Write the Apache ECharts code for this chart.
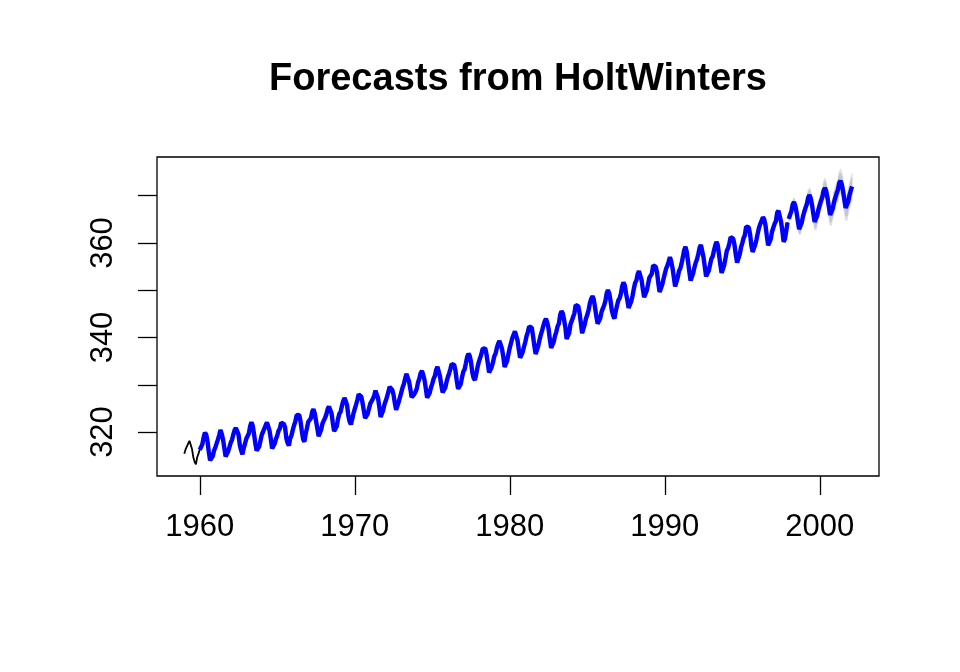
<!DOCTYPE html>
<html>
<head>
<meta charset="utf-8">
<script src="https://cdn.jsdelivr.net/npm/echarts@6/dist/echarts.min.js"></script>
<style>html,body{margin:0;padding:0;background:#fff}#c{width:960px;height:672px}</style>
</head>
<body>
<div id="c"></div>
<script>
// Observed monthly series, 1959 Jan .. 1997 Dec
const obsStart = 1959;
const co2 = [
315.42,316.31,316.50,317.56,318.13,318.00,316.39,314.65,313.68,313.18,314.66,315.43,
316.27,316.81,317.42,318.87,319.87,319.43,318.01,315.74,314.00,313.68,314.84,316.03,
316.73,317.54,318.38,319.31,320.42,319.61,318.42,316.63,314.83,315.16,315.94,316.85,
317.78,318.40,319.53,320.42,320.85,320.45,319.45,317.25,316.11,315.27,316.53,317.53,
318.58,318.92,319.70,321.22,322.08,321.31,319.58,317.61,316.05,315.83,316.91,318.20,
319.41,320.07,320.74,321.40,322.06,321.73,320.27,318.54,316.54,316.71,317.53,318.55,
319.27,320.28,320.73,321.97,322.00,321.71,321.05,318.71,317.66,317.14,318.70,319.25,
320.46,321.43,322.23,323.54,323.91,323.59,322.24,320.20,318.48,317.94,319.63,320.87,
322.17,322.34,322.88,324.25,324.83,323.93,322.38,320.76,319.10,319.24,320.56,321.80,
322.40,322.99,323.73,324.86,325.40,325.20,323.98,321.95,320.18,320.09,321.16,322.74,
323.83,324.26,325.47,326.50,327.21,326.54,325.72,323.50,322.22,321.62,322.69,323.95,
324.89,325.82,326.77,327.97,327.91,327.50,326.18,324.53,322.93,322.90,323.85,324.96,
326.01,326.51,327.01,327.62,328.76,328.40,327.20,325.27,323.20,323.40,324.63,325.85,
326.60,327.47,327.58,329.56,329.90,328.92,327.88,326.16,324.68,325.04,326.34,327.39,
328.37,329.40,330.14,331.33,332.31,331.90,330.70,329.15,327.35,327.02,327.99,328.48,
329.18,330.55,331.32,332.48,332.92,332.08,331.01,329.23,327.27,327.21,328.29,329.41,
330.23,331.25,331.87,333.14,333.80,333.43,331.73,329.90,328.40,328.17,329.32,330.59,
331.58,332.39,333.33,334.41,334.71,334.17,332.89,330.77,329.14,328.78,330.14,331.52,
332.75,333.24,334.53,335.90,336.57,336.10,334.76,332.59,331.42,330.98,332.24,333.68,
334.80,335.22,336.47,337.59,337.84,337.72,336.37,334.51,332.60,332.38,333.75,334.78,
336.05,336.59,337.79,338.71,339.30,339.12,337.56,335.92,333.75,333.70,335.12,336.56,
337.84,338.19,339.91,340.60,341.29,341.00,339.39,337.43,335.72,335.84,336.93,338.04,
339.06,340.30,341.21,342.33,342.74,342.08,340.32,338.26,336.52,336.68,338.19,339.44,
340.57,341.44,342.53,343.39,343.96,343.18,341.88,339.65,337.81,337.69,339.09,340.32,
341.20,342.35,342.93,344.77,345.58,345.14,343.81,342.21,339.69,339.82,340.98,342.82,
343.52,344.33,345.11,346.88,347.25,346.62,345.22,343.11,340.90,341.18,342.80,344.04,
344.79,345.82,347.25,348.17,348.74,348.07,346.38,344.51,342.92,342.62,344.06,345.38,
346.11,346.78,347.68,349.37,350.03,349.37,347.76,345.73,344.68,343.99,345.48,346.72,
347.84,348.29,349.23,350.80,351.66,351.07,349.33,347.92,346.27,346.18,347.64,348.78,
350.25,351.54,352.05,353.41,354.04,353.62,352.22,350.27,348.55,348.72,349.91,351.18,
352.60,352.92,353.53,355.26,355.52,354.97,353.75,351.52,349.64,349.83,351.14,352.37,
353.50,354.55,355.23,356.04,357.00,356.07,354.67,352.76,350.82,351.04,352.69,354.07,
354.59,355.63,357.03,358.48,359.22,358.12,356.06,353.92,352.05,352.11,353.64,354.89,
355.88,356.63,357.72,359.07,359.58,359.17,356.94,354.92,352.94,353.23,354.09,355.33,
356.63,357.10,358.32,359.41,360.23,359.55,357.53,355.48,353.67,353.95,355.30,356.78,
358.34,358.89,359.95,361.25,361.67,360.94,359.55,357.49,355.84,356.00,357.59,359.05,
359.98,361.03,361.66,363.48,363.82,363.30,361.94,359.50,358.11,357.80,359.61,360.74,
362.09,363.29,364.06,364.76,365.45,365.01,363.70,361.54,359.51,359.65,360.80,362.38,
363.23,364.06,364.61,366.40,366.84,365.68,364.52,362.57,360.24,360.83,362.49,364.34
];
// Fitted (blue) line from 1960 Jan; estimated as visually equal to the observed values
const fitStart = 1960;
const fitted = co2.slice(12);

// Forecast mean, 1998 Jan .. 2002 Feb
const fcStart = 1998;
const forecast = [
365.11,365.97,366.73,368.14,368.67,367.95,366.54,364.69,362.94,362.97,364.28,365.63,
366.61,367.47,368.23,369.64,370.17,369.45,368.04,366.19,364.44,364.47,365.78,367.13,
368.10,368.96,369.72,371.13,371.66,370.94,369.53,367.68,365.93,365.96,367.27,368.62,
369.60,370.46,371.22,372.63,373.16,372.44,371.03,369.18,367.43,367.46,368.77,370.12,
371.09,371.95
];
// Half-widths of the 95% and 80% prediction intervals
const hw95 = [
0.60,0.68,0.75,0.82,0.89,0.95,1.01,1.06,1.12,1.17,1.22,1.27,
1.34,1.38,1.43,1.47,1.52,1.56,1.60,1.64,1.68,1.72,1.76,1.80,
1.85,1.89,1.93,1.97,2.00,2.04,2.08,2.12,2.15,2.19,2.23,2.26,
2.31,2.35,2.38,2.42,2.46,2.49,2.53,2.57,2.60,2.64,2.67,2.71,
2.76,2.79
];
const hw80 = [
0.39,0.44,0.49,0.54,0.58,0.62,0.66,0.69,0.73,0.77,0.80,0.83,
0.88,0.90,0.94,0.96,0.99,1.02,1.05,1.07,1.10,1.12,1.15,1.18,
1.21,1.24,1.26,1.29,1.31,1.33,1.36,1.39,1.41,1.43,1.46,1.48,
1.51,1.54,1.56,1.58,1.61,1.63,1.65,1.68,1.70,1.73,1.75,1.77,
1.80,1.82
];
const xTicks = [1960, 1970, 1980, 1990, 2000];
const yTicks = [320, 330, 340, 350, 360, 370];
const yLabels = [320, 340, 360];
const titleText = 'Forecasts from HoltWinters';

const ts = (start, arr) => arr.map((v, i) => [start + i / 12, v]);
const bandData = hw => forecast.map((v, i) => [fcStart + i / 12, v - hw[i], v + hw[i]]);

function bandSeries(data, color, z) {
  return {
    type: 'custom', z: z, silent: true, clip: true,
    data: data, encode: {x: 0, y: [1, 2]},
    renderItem: function (params, api) {
      const i = params.dataIndex;
      if (i >= data.length - 1) return null;
      const a = data[i], b = data[i + 1];
      const pts = [api.coord([a[0], a[1]]), api.coord([b[0], b[1]]), api.coord([b[0], b[2]]), api.coord([a[0], a[2]])];
      return {type: 'polygon', shape: {points: pts}, style: {fill: color, stroke: color, lineWidth: 0.6}};
    }
  };
}

const FONT = '"Liberation Sans", Arial, Helvetica, sans-serif';
const chart = echarts.init(document.getElementById('c'), null, {renderer: 'canvas'});
chart.setOption({
  animation: false,
  backgroundColor: '#ffffff',
  graphic: [{
    type: 'text', x: 518, y: 80,
    style: {text: titleText, fill: '#000', font: 'bold 38px ' + FONT, textAlign: 'center', textVerticalAlign: 'middle'}
  }],
  grid: {left: 157, right: 81, top: 157, bottom: 196, show: true, borderColor: '#000', borderWidth: 1.3, backgroundColor: 'transparent'},
  xAxis: {
    type: 'value', min: 1957.24, max: 2003.82,
    splitLine: {show: false}, axisLine: {show: false},
    axisTick: {show: true, inside: false, length: 19, lineStyle: {color: '#000', width: 1.3}, customValues: xTicks},
    axisLabel: {show: true, customValues: xTicks, margin: 36, color: '#000', fontSize: 31, fontFamily: FONT, formatter: v => String(v)}
  },
  yAxis: {
    type: 'value', min: 310.69, max: 378.2,
    splitLine: {show: false}, axisLine: {show: false},
    axisTick: {show: true, inside: false, length: 19, lineStyle: {color: '#000', width: 1.3}, customValues: yTicks},
    axisLabel: {show: true, customValues: yLabels, rotate: 90, margin: 38, color: '#000', fontSize: 31, fontFamily: FONT, formatter: v => String(v)}
  },
  series: [
    {type: 'line', data: ts(obsStart, co2), showSymbol: false, lineStyle: {color: '#000', width: 1.8}, z: 2},
    bandSeries(bandData(hw95), '#DCDCE5', 3),
    bandSeries(bandData(hw80), '#C4C6D4', 4),
    {type: 'line', data: ts(fcStart, forecast), showSymbol: false, lineStyle: {color: '#0000FF', width: 4.4}, z: 5},
    {type: 'line', data: ts(fitStart, fitted), showSymbol: false, lineStyle: {color: '#0000FF', width: 4.4}, z: 5}
  ]
});
</script>
</body>
</html>
